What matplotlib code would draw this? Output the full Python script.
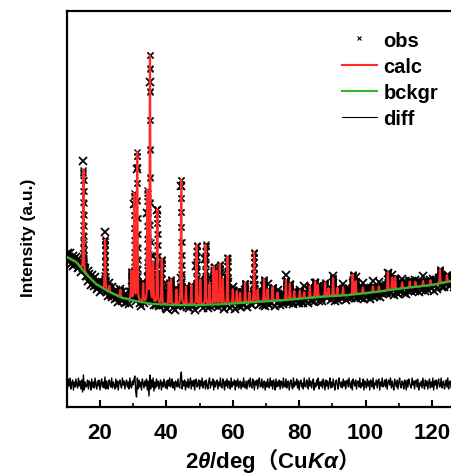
import numpy as np
import matplotlib.pyplot as plt
from matplotlib.lines import Line2D

plt.rcParams['font.family'] = ['Liberation Sans', 'Noto Sans CJK SC', 'DejaVu Sans']
plt.rcParams['font.weight'] = 'bold'
plt.rcParams['axes.labelweight'] = 'bold'
plt.rcParams['mathtext.fontset'] = 'custom'
plt.rcParams['mathtext.rm'] = 'Liberation Sans:bold'
plt.rcParams['mathtext.it'] = 'Liberation Sans:italic:bold'
plt.rcParams['mathtext.sf'] = 'Noto Sans CJK SC:bold'

# background (2theta, intensity)
bg_x = [10, 12.8, 15.8, 18.8, 22.8, 26.8, 30.8, 36, 43, 50, 58, 67, 76, 86, 95, 103, 112, 120, 126, 130]
bg_y = [150, 145, 133, 123, 115, 109, 106, 103, 102, 102, 103, 105, 107, 110, 112, 115, 119, 122, 126, 128]

# reflections: position and height above background
peak_pos = [15.0, 21.5, 22.8, 26.1, 29.4, 30.3, 31.2, 33.0, 34.3, 35.05, 36.0, 37.25, 38.6,
            40.7, 41.4, 43.0, 44.45, 45.9, 47.5, 49.1, 50.2, 51.8, 53.0, 54.2, 55.1, 56.1,
            57.0, 58.4, 60.0, 61.2, 62.2, 63.7, 65.0, 66.4, 67.5, 69.4, 70.5, 72.0, 73.5,
            76.0, 77.2, 78.5, 80.2, 81.5, 83.2, 84.8, 85.6, 87.8, 88.8, 90.2, 91.5, 93.2,
            96.1, 97.0, 99.2, 102.2, 104.0, 106.7, 108.0, 108.9, 111.0, 113.3, 115.0,
            117.3, 119.5, 122.4, 124.5]
peak_height = [101, 50, 6, 7, 28, 106, 148, 18, 110, 248, 40, 95, 45,
               22, 25, 15, 126, 18, 20, 60, 25, 60, 20, 38, 33, 40,
               25, 47, 14, 12, 10, 20, 10, 50, 12, 22, 12, 14, 8,
               20, 16, 8, 8, 6, 12, 16, 12, 14, 8, 18, 8, 8,
               20, 13, 6, 6, 5, 18, 12, 12, 6, 6, 5,
               5, 5, 14, 7]

# obs - calc, every 0.25 deg starting at 10 deg
diff_vals = [
    3, -4, 5, -2, 6, -5, 1, 4, -6, 2, -3, 5, -1, -4, 6, -2, 3, -5, 4, -8, 9, -6, 2, -3,
    -2, 4, -5, 3, 1, -6, 5, -3, 2, -4, 6, -1, -5, 3, -2, 4, -6, 1, 5, -3, 2, -4, 7, -5,
    3, -2, -5, 4, 1, -3, 6, -4, 2, -1, -5, 5, -3, 3, -6, 2, 4, -2, -4, 6, -1, 3, -5, 1,
    4, -3, 2, -5, 6, -2, -4, 3, -1, 5, 8, -7, -13, 6, -5, 4, -3, 2, -6, 5, 1, -4, 3, -2,
    5, -6, 3, -12, 9, -5, 4, -3, 6, -7, 2, -4, 5, -2, 3, -5, 1, 4, -6, 2, -3, 5, -1, -4,
    3, -5, 4, -2, 6, -3, -1, 5, -4, 2, -6, 3, 1, -3, 5, -2, -4, 6, 12, -5, 3, -2, 4, -6,
    2, -3, 5, -4, 1, 6, -5, 3, -2, 4, -6, 2, 5, -3, -1, 4, -5, 3, -2, 6, -4, 1, 3, -5,
    4, -2, -5, 3, 6, -4, 2, -1, 5, -6, 3, -3, 1, 4, -5, 2, -2, 6, -3, -4, 5, 1, -6, 3,
    -2, 5, -4, 3, 1, -5, 6, -3, 2, -1, 4, -6, 3, -2, 5, -4, 1, 3, -5, 2, -3, 6, -1, -4,
    3, -5, 2, 4, -3, 6, -2, -4, 5, 1, -6, 3, -1, 4, -5, 2, 6, -3, -2, 5, -4, 1, 3, -6,
    2, -3, 5, -1, -4, 6, -2, 3, -5, 4, 1, -6, 5, -3, 2, -2, 4, -5, 3, 1, -4, 6, -2, -3,
    5, -4, 2, 3, -6, 1, 4, -2, -5, 6, -3, 2, -1, 5, -4, 3, -6, 2, 4, -3, 1, -5, 6, -2,
    -3, 4, 1, -5, 6, -2, 3, -4, 2, 5, -6, 1, -3, 4, -1, 6, -5, 2, -2, 3, -4, 5, 1, -6,
    4, -2, 3, -5, 1, 6, -4, 2, -3, 5, -1, -6, 3, 4, -2, -5, 6, 1, -3, 2, -4, 5, -2, 3,
    -5, 2, 4, -3, 6, -1, -4, 3, -6, 5, 1, -2, 4, -5, 2, 3, -3, 6, -4, 1, -2, 5, -6, 3,
    1, -4, 5, -2, 3, -6, 4, 2, -3, 6, -5, 1, -1, 4, -4, 3, 5, -6, 2, -2, 6, -3, -1, 4,
    -3, 5, -5, 2, 4, -1, 6, -4, 3, -2, -6, 5, 1, -3, 4, -5, 2, 6, -2, -4, 3, 1, -5, 4,
    2, -6, 4, -3, 5, 1, -2, -4, 6, -1, 3, -5, 2, 4, -3, 5, -6, 1, -2, 3, -4, 6, -1, -5,
    4, -2, 3, -5, 1, 5, -4, 2, -3, 6, -6, 3, -1, 4, -5, 2, 5, -3, -2, 6, -4, 1, 3, -5,
    -1, 4, -3, 6, -5, 2, 3, -4, 1, 5, -6, 2, -2, 4, -3, 5, -5, 1, 3, -4, 6, -2, -1, 4,
]
diff_offset = 23


def peaks(x):
    # pseudo-Voigt reflections
    w = 0.22
    out = np.zeros_like(x)
    for p, h in zip(peak_pos, peak_height):
        d = (x - p) / w
        out += h * (0.5 * np.exp(-4 * np.log(2) * d ** 2) + 0.5 / (1 + 4 * d ** 2))
    return out


x_fine = np.arange(10, 130, 0.02)
calc_fine = np.interp(x_fine, bg_x, bg_y) + peaks(x_fine)

x_obs = 10 + 0.25 * np.arange(len(diff_vals))
diff = np.array(diff_vals, dtype=float)
obs = np.interp(x_obs, bg_x, bg_y) + peaks(x_obs) + diff

# points measured on the reflections
on_peak = peaks(x_fine) > 3
x_pk = x_fine[on_peak]
y_pk = calc_fine[on_peak]

fig = plt.figure(figsize=(4.52, 4.77), dpi=100)
ax = fig.add_axes([66.8 / 452, 69 / 477, 398.4 / 452, 396 / 477])

ax.plot(x_obs, obs, 'x', color='black', ms=5.5, mew=1.3, zorder=1)
ax.plot(x_pk, y_pk, 'x', color='black', ms=4.5, mew=1.0, zorder=1)
ax.plot(x_fine, calc_fine, color='#ff2a2a', lw=1.6, zorder=2)
ax.plot(bg_x, bg_y, color='#2db82d', lw=1.6, zorder=3)
ax.plot(x_obs, diff + diff_offset, color='black', lw=1.0, zorder=2)

ax.set_xlim(10, 130)
ax.set_ylim(0, 396)
ax.set_yticks([])
ax.set_xticks([20, 40, 60, 80, 100, 120])
ax.set_xticks([30, 50, 70, 90, 110], minor=True)
ax.tick_params(axis='x', which='major', direction='in', length=5, width=1.5, labelsize=16, pad=11)
ax.tick_params(axis='x', which='minor', direction='in', length=3, width=1.2)
for s in ax.spines.values():
    s.set_linewidth(1.6)

ax.set_xlabel(r'2$\theta$/deg$\mathsf{（}$Cu$K\alpha\mathsf{）}$', fontsize=16, va='baseline')
ax.xaxis.set_label_coords(0.5, -0.152)
ax.set_ylabel('Intensity (a.u.)', fontsize=12.5, fontweight='bold')
ax.yaxis.set_label_coords(-0.077, 0.43)

handles = [
    Line2D([], [], ls='none', marker='x', color='black', ms=3.5, mew=0.8),
    Line2D([], [], color='#ff2a2a', lw=1.5),
    Line2D([], [], color='#2db82d', lw=1.5),
    Line2D([], [], color='black', lw=0.8),
]
fig.legend(handles, ['obs', 'calc', 'bckgr', 'diff'], loc='upper left',
           bbox_to_anchor=(0.735, 0.955), frameon=False, borderpad=0,
           handlelength=1.7, handletextpad=0.35, labelspacing=0.36,
           prop={'size': 14.5, 'weight': 'bold'})

fig.savefig('out.png', dpi=100)
